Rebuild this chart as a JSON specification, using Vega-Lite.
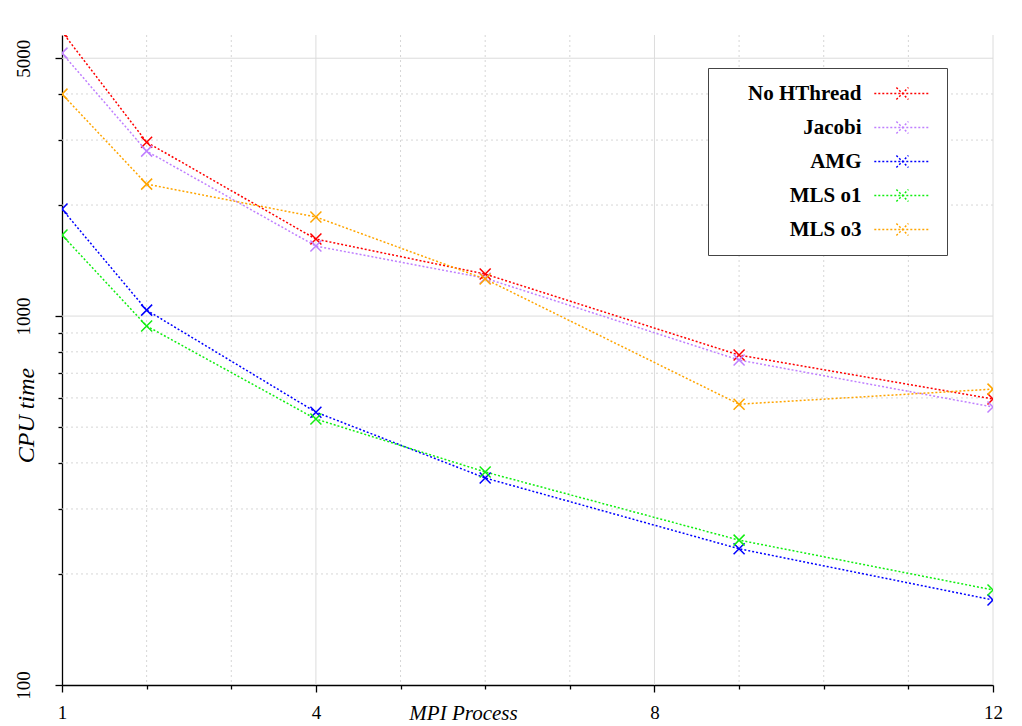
{
  "$schema": "https://vega.github.io/schema/vega-lite/v6.json",
  "width": 931,
  "height": 650,
  "autosize": {"type": "none"},
  "padding": {"left": 62, "top": 35, "right": 29, "bottom": 41},
  "background": "white",
  "config": {
    "view": {"stroke": null},
    "font": "Liberation Serif",
    "axis": {"grid": false},
    "legend": {
      "orient": "none",
      "legendX": 646,
      "legendY": 33,
      "labelFont": "Liberation Serif",
      "labelFontWeight": "bold",
      "labelFontSize": 21,
      "labelColor": "black",
      "labelAlign": "right",
      "labelOffset": 117.5,
      "labelLimit": 400,
      "symbolType": "M17.6,0L24.4,0M20.36,-0.75L21.86,0.75M20.36,0.75L21.86,-0.75",
      "symbolSize": 256,
      "symbolStrokeWidth": 1.5,
      "symbolDash": [2, 2],
      "symbolFillColor": "transparent",
      "fillColor": "white",
      "strokeColor": "#444444",
      "padding": 15,
      "rowPadding": 12
    }
  },
  "datasets": {
    "cpu": [
      {"series": "No HThread", "procs": 1, "time": 5900},
      {"series": "No HThread", "procs": 2, "time": 2961},
      {"series": "No HThread", "procs": 4, "time": 1617},
      {"series": "No HThread", "procs": 6, "time": 1300},
      {"series": "No HThread", "procs": 9, "time": 784},
      {"series": "No HThread", "procs": 12, "time": 596},
      {"series": "Jacobi", "procs": 1, "time": 5162},
      {"series": "Jacobi", "procs": 2, "time": 2800},
      {"series": "Jacobi", "procs": 4, "time": 1548},
      {"series": "Jacobi", "procs": 6, "time": 1267},
      {"series": "Jacobi", "procs": 9, "time": 760},
      {"series": "Jacobi", "procs": 12, "time": 567},
      {"series": "AMG", "procs": 1, "time": 1950},
      {"series": "AMG", "procs": 2, "time": 1038},
      {"series": "AMG", "procs": 4, "time": 549},
      {"series": "AMG", "procs": 6, "time": 364},
      {"series": "AMG", "procs": 9, "time": 234},
      {"series": "AMG", "procs": 12, "time": 170},
      {"series": "MLS o1", "procs": 1, "time": 1658},
      {"series": "MLS o1", "procs": 2, "time": 940},
      {"series": "MLS o1", "procs": 4, "time": 526},
      {"series": "MLS o1", "procs": 6, "time": 378},
      {"series": "MLS o1", "procs": 9, "time": 247},
      {"series": "MLS o1", "procs": 12, "time": 181},
      {"series": "MLS o3", "procs": 1, "time": 3997},
      {"series": "MLS o3", "procs": 2, "time": 2279},
      {"series": "MLS o3", "procs": 4, "time": 1856},
      {"series": "MLS o3", "procs": 6, "time": 1260},
      {"series": "MLS o3", "procs": 9, "time": 577},
      {"series": "MLS o3", "procs": 12, "time": 634}
    ],
    "gridXMajor": [{"gx": 4}, {"gx": 8}, {"gx": 12}],
    "gridXMinor": [{"gx": 2}, {"gx": 3}, {"gx": 5}, {"gx": 6}, {"gx": 7}, {"gx": 9}, {"gx": 10}, {"gx": 11}],
    "gridYMajor": [{"gy": 1000}, {"gy": 5000}],
    "gridYMinor": [{"gy": 200}, {"gy": 300}, {"gy": 400}, {"gy": 500}, {"gy": 600}, {"gy": 700}, {"gy": 800}, {"gy": 900}, {"gy": 2000}, {"gy": 3000}, {"gy": 4000}]
  },
  "data": {"name": "cpu"},
  "layer": [
    {
      "data": {"name": "gridXMinor"},
      "mark": {"type": "rule", "color": "#d6d6d6", "strokeWidth": 1, "strokeDash": [2, 3]},
      "encoding": {
        "x": {"field": "gx", "type": "quantitative", "scale": {"domain": [1, 12], "nice": false, "zero": false}, "axis": null}
      }
    },
    {
      "data": {"name": "gridYMinor"},
      "mark": {"type": "rule", "color": "#d6d6d6", "strokeWidth": 1, "strokeDash": [2, 3]},
      "encoding": {
        "y": {"field": "gy", "type": "quantitative", "scale": {"type": "log", "domain": [100, 5780], "nice": false}, "axis": null}
      }
    },
    {
      "data": {"name": "gridXMajor"},
      "mark": {"type": "rule", "color": "#dcdcdc", "strokeWidth": 1},
      "encoding": {
        "x": {"field": "gx", "type": "quantitative", "scale": {"domain": [1, 12], "nice": false, "zero": false}, "axis": null}
      }
    },
    {
      "data": {"name": "gridYMajor"},
      "mark": {"type": "rule", "color": "#dcdcdc", "strokeWidth": 1},
      "encoding": {
        "y": {"field": "gy", "type": "quantitative", "scale": {"type": "log", "domain": [100, 5780], "nice": false}, "axis": null}
      }
    },
    {
      "mark": {"type": "line", "strokeDash": [2, 2], "strokeWidth": 1.5, "clip": true},
      "encoding": {
        "x": {"field": "procs", "type": "quantitative", "scale": {"domain": [1, 12], "nice": false, "zero": false}, "axis": null},
        "y": {"field": "time", "type": "quantitative", "scale": {"type": "log", "domain": [100, 5780], "nice": false}, "axis": null},
        "color": {
          "field": "series",
          "type": "nominal",
          "scale": {
            "domain": ["No HThread", "Jacobi", "AMG", "MLS o1", "MLS o3"],
            "range": ["#ff0000", "#bf7fff", "#0000ff", "#11ee11", "#ffa500"]
          },
          "legend": {"title": null}
        }
      }
    },
    {
      "mark": {"type": "point", "shape": "M-1,-1L1,1M-1,1L1,-1", "size": 121, "filled": false, "strokeWidth": 1.5, "opacity": 1, "clip": true},
      "encoding": {
        "x": {
          "field": "procs",
          "type": "quantitative",
          "scale": {"domain": [1, 12], "nice": false, "zero": false},
          "axis": {
            "orient": "bottom",
            "values": [1, 2, 3, 4, 5, 6, 7, 8, 9, 10, 11, 12],
            "labelExpr": "indexof([1,4,8,12], datum.value) >= 0 ? datum.label : ''",
            "title": "MPI Process",
            "titleFont": "Liberation Serif",
            "titleFontStyle": "italic",
            "titleFontWeight": "normal",
            "titleFontSize": 21,
            "titleColor": "black",
            "titleX": 401,
            "titleY": 34,
            "titleBaseline": "alphabetic",
            "titleAlign": "center",
            "labelFont": "Liberation Serif",
            "labelFontSize": 19,
            "labelColor": "black",
            "labelBaseline": "alphabetic",
            "labelPadding": 26,
            "labelFlush": false,
            "labelOverlap": false,
            "domainColor": "black",
            "domainWidth": 1.3,
            "tickColor": "black",
            "tickWidth": 1.3,
            "tickSize": {"condition": {"test": "indexof([1,4,8,12], datum.value) >= 0", "value": 7}, "value": 4},
            "grid": false
          }
        },
        "y": {
          "field": "time",
          "type": "quantitative",
          "scale": {"type": "log", "domain": [100, 5780], "nice": false},
          "axis": {
            "orient": "left",
            "values": [100, 200, 300, 400, 500, 600, 700, 800, 900, 1000, 2000, 3000, 4000, 5000],
            "labelExpr": "indexof([100,1000,5000], datum.value) >= 0 ? '' + datum.value : ''",
            "title": "CPU time",
            "titleFont": "Liberation Serif",
            "titleFontStyle": "italic",
            "titleFontWeight": "normal",
            "titleFontSize": 24,
            "titleColor": "black",
            "titleAngle": 270,
            "titleX": -29,
            "titleY": 380,
            "titleBaseline": "alphabetic",
            "titleAlign": "center",
            "labelFont": "Liberation Serif",
            "labelFontSize": 19,
            "labelColor": "black",
            "labelAngle": 270,
            "labelAlign": "center",
            "labelBaseline": "alphabetic",
            "labelPadding": 26,
            "labelFlush": false,
            "labelOverlap": false,
            "domainColor": "black",
            "domainWidth": 1.3,
            "tickColor": "black",
            "tickWidth": 1.3,
            "tickSize": {"condition": {"test": "indexof([100,1000,5000], datum.value) >= 0", "value": 7}, "value": 4},
            "grid": false
          }
        },
        "color": {
          "field": "series",
          "type": "nominal",
          "scale": {
            "domain": ["No HThread", "Jacobi", "AMG", "MLS o1", "MLS o3"],
            "range": ["#ff0000", "#bf7fff", "#0000ff", "#11ee11", "#ffa500"]
          },
          "legend": {"title": null}
        }
      }
    }
  ],
  "resolve": {"axis": {"x": "independent", "y": "independent"}}
}
